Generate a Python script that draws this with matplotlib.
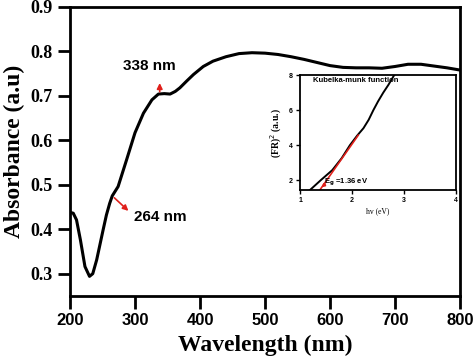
import matplotlib
matplotlib.use("Agg")
import matplotlib.pyplot as plt

# === DATA ===

WAVELENGTH = [200, 205, 210, 216, 223, 230, 235, 241, 246, 251, 256, 261, 265,
              274, 287, 300, 313, 326, 336, 345, 354, 362, 369, 380, 390, 405,
              420, 440, 460, 480, 500, 520, 540, 560, 580, 600, 620, 640, 660,
              680, 700, 720, 740, 760, 780, 800]
ABSORBANCE = [0.438, 0.436, 0.421, 0.376, 0.316, 0.294, 0.300, 0.331, 0.365,
              0.399, 0.432, 0.458, 0.475, 0.496, 0.556, 0.617, 0.661, 0.691,
              0.704, 0.705, 0.704, 0.710, 0.718, 0.734, 0.748, 0.766, 0.778,
              0.788, 0.795, 0.797, 0.796, 0.793, 0.788, 0.782, 0.775, 0.768,
              0.764, 0.763, 0.763, 0.762, 0.766, 0.771, 0.771, 0.767, 0.763,
              0.758]

X_TICKS = [200, 300, 400, 500, 600, 700, 800]
Y_TICKS = [0.3, 0.4, 0.5, 0.6, 0.7, 0.8, 0.9]

# inset: Kubelka-Munk plot
HV = [1.19, 1.40, 1.62, 1.80, 1.96, 2.10, 2.22, 2.32, 2.41, 2.50, 2.60, 2.70, 2.81]
FR2 = [1.43, 2.00, 2.57, 3.25, 4.00, 4.55, 4.97, 5.45, 6.00, 6.50, 7.00, 7.45, 8.00]
FIT_HV = [1.38, 2.12]
FIT_FR2 = [1.43, 4.57]

SERIF = "Liberation Serif"
SANS = "Liberation Sans"

fig = plt.figure(figsize=(4.74, 3.6), dpi=100)

# === MAIN AXES ===
ax = fig.add_axes([0.1477, 0.178, 0.8228, 0.8028])
ax.plot(WAVELENGTH, ABSORBANCE, color="black", linewidth=2.2)
ax.set_xlim(200, 800)
ax.set_ylim(0.25, 0.9)
ax.set_xticks(X_TICKS)
ax.set_yticks(Y_TICKS)
ax.set_xticklabels([str(v) for v in X_TICKS], fontfamily=SANS,
                   fontweight="bold", fontsize=12)
ax.set_yticklabels([f"{v:.1f}" for v in Y_TICKS], fontfamily=SERIF,
                   fontweight="bold", fontsize=13)
ax.tick_params(direction="out", length=9, width=2, top=False, right=False)
for s in ax.spines.values():
    s.set_linewidth(2)
ax.set_xlabel("Wavelength (nm)", fontfamily=SERIF, fontweight="bold",
              fontsize=17, labelpad=5)
ax.set_ylabel("Absorbance (a.u)", fontfamily=SERIF, fontweight="bold",
              fontsize=17, labelpad=4)

ax.annotate("", xy=(338, 0.735), xytext=(338, 0.703),
            arrowprops=dict(arrowstyle="-|>", color="#e0201b", lw=1.2,
                            mutation_scale=8))
ax.text(281, 0.767, "338 nm", fontfamily=SANS, fontweight="bold",
        fontsize=11, va="center", ha="left")
ax.annotate("", xy=(293, 0.437), xytext=(265, 0.475),
            arrowprops=dict(arrowstyle="-|>", color="#e0201b", lw=1.2,
                            mutation_scale=8))
ax.text(299, 0.428, "264 nm", fontfamily=SANS, fontweight="bold",
        fontsize=11, va="center", ha="left")

# === INSET ===
ins = fig.add_axes([0.633, 0.472, 0.329, 0.319])
ins.plot(HV, FR2, color="black", linewidth=1.4)
ins.plot(FIT_HV, FIT_FR2, color="#e0201b", linewidth=1.2)
ins.set_xlim(1, 4)
ins.set_ylim(1.43, 8)
ins.set_xticks([1, 2, 3, 4])
ins.set_yticks([2, 4, 6, 8])
ins.tick_params(direction="out", length=3, width=1, labelsize=5,
                top=False, right=False, pad=2)
for lbl in ins.get_xticklabels() + ins.get_yticklabels():
    lbl.set_fontfamily(SANS)
    lbl.set_fontweight("bold")
for s in ins.spines.values():
    s.set_linewidth(1.3)
ins.set_xlabel("hv (eV)", fontfamily=SERIF, fontsize=5.5, labelpad=2)
ins.set_ylabel("(FR)$^2$ (a.u.)", fontfamily=SERIF, fontweight="bold",
               fontsize=7, labelpad=4)
ins.text(1.25, 7.7, "Kubelka-munk function", fontfamily=SANS,
         fontweight="bold", fontsize=5.5, va="center")
ins.annotate("", xy=(1.37, 1.48), xytext=(1.53, 1.88),
             arrowprops=dict(arrowstyle="-|>", color="#e0201b", lw=1,
                             mutation_scale=5))
ins.text(1.47, 1.85, "E$_\\mathbf{g}$ =1.36 eV", fontfamily=SANS,
         fontweight="bold", fontsize=5.5, va="center")

fig.savefig("out.png", dpi=100)
